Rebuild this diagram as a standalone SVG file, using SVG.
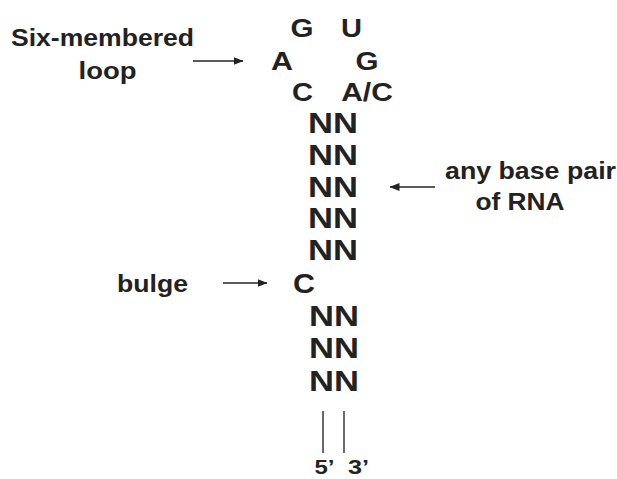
<svg xmlns="http://www.w3.org/2000/svg" width="617" height="479" viewBox="0 0 617 479">
<defs>
<marker id="ah" viewBox="0 0 10 8" refX="9.5" refY="4" markerWidth="10" markerHeight="8" markerUnits="userSpaceOnUse" orient="auto">
<path d="M0,0 L10,4 L0,8 Z" fill="#222"/>
</marker>
<style>
text{font-family:"Liberation Sans",Arial,sans-serif;fill:#222;text-anchor:middle;font-weight:bold}
.lab{font-size:23px}
.big{font-size:26px}
.nn{font-size:30px}
.end{font-size:21px}
.arr{stroke:#222;stroke-width:1.6;fill:none;marker-end:url(#ah)}
.strand{stroke:#444;stroke-width:1.6}
</style>
</defs>
<rect width="617" height="479" fill="#fff"/>
<g id="label-loop">
<text class="lab" x="102.5" y="46" textLength="183" lengthAdjust="spacingAndGlyphs">Six-membered</text>
<text class="lab" x="107.5" y="79" textLength="58" lengthAdjust="spacingAndGlyphs">loop</text>
</g>
<g id="label-pair">
<text class="lab" x="530.5" y="179" textLength="171" lengthAdjust="spacingAndGlyphs">any base pair</text>
<text class="lab" x="520" y="210" textLength="89" lengthAdjust="spacingAndGlyphs">of RNA</text>
</g>
<g id="label-bulge">
<text class="lab" x="152.5" y="292" textLength="71" lengthAdjust="spacingAndGlyphs">bulge</text>
</g>
<g id="hairpin-loop">
<text class="big" x="302" y="37" textLength="23" lengthAdjust="spacingAndGlyphs">G</text>
<text class="big" x="351.5" y="37" textLength="21" lengthAdjust="spacingAndGlyphs">U</text>
<text class="big" x="282" y="70" textLength="22" lengthAdjust="spacingAndGlyphs">A</text>
<text class="big" x="367" y="70" textLength="23" lengthAdjust="spacingAndGlyphs">G</text>
<text class="big" x="302.5" y="101" textLength="21" lengthAdjust="spacingAndGlyphs">C</text>
<text class="big" x="367" y="101" textLength="51.5" lengthAdjust="spacingAndGlyphs">A/C</text>
</g>
<g id="stem-upper">
<text class="nn" x="333" y="133" textLength="50" lengthAdjust="spacingAndGlyphs">NN</text>
<text class="nn" x="333" y="165" textLength="50" lengthAdjust="spacingAndGlyphs">NN</text>
<text class="nn" x="333" y="197" textLength="50" lengthAdjust="spacingAndGlyphs">NN</text>
<text class="nn" x="333" y="228" textLength="50" lengthAdjust="spacingAndGlyphs">NN</text>
<text class="nn" x="333" y="260" textLength="50" lengthAdjust="spacingAndGlyphs">NN</text>
</g>
<g id="bulge-c">
<text class="big" x="304" y="293" style="font-size:28px" textLength="22" lengthAdjust="spacingAndGlyphs">C</text>
</g>
<g id="stem-lower">
<text class="nn" x="334" y="326" textLength="50" lengthAdjust="spacingAndGlyphs">NN</text>
<text class="nn" x="334" y="358" textLength="50" lengthAdjust="spacingAndGlyphs">NN</text>
<text class="nn" x="334" y="391" textLength="50" lengthAdjust="spacingAndGlyphs">NN</text>
</g>
<g id="ends">
<line class="strand" x1="323" y1="411" x2="323" y2="453"/>
<line class="strand" x1="344" y1="411" x2="344" y2="453"/>
<text class="end" x="324.5" y="474" textLength="20" lengthAdjust="spacingAndGlyphs">5’</text>
<text class="end" x="358.5" y="474" textLength="21" lengthAdjust="spacingAndGlyphs">3’</text>
</g>
<g id="connectors">
<line class="arr" x1="193" y1="61" x2="243" y2="61"/>
<line class="arr" x1="435" y1="187" x2="390" y2="187"/>
<line class="arr" x1="223" y1="283" x2="267" y2="283"/>
</g>
</svg>
